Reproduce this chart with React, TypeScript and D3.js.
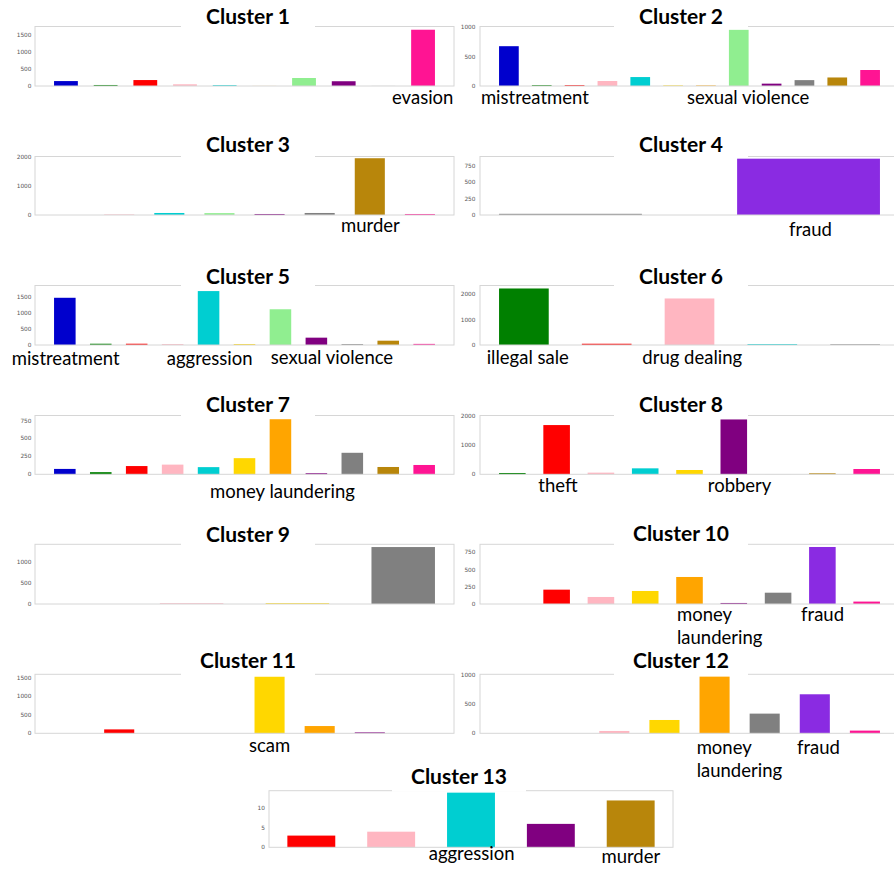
import React from "react";
import * as d3 from "d3";

// ---------- data ----------
const categories = [
  "mistreatment", "illegal sale", "theft", "drug dealing", "aggression", "scam",
  "money laundering", "sexual violence", "robbery", "other", "fraud", "murder", "evasion",
];
const categoryColors = [
  "#0000CD", "#008000", "#FF0000", "#FFB6C1", "#00CED1", "#FFD700",
  "#FFA500", "#90EE90", "#800080", "#808080", "#8A2BE2", "#B8860B", "#FF1493",
];

const clusterNames = [
  "Cluster 1", "Cluster 2", "Cluster 3", "Cluster 4", "Cluster 5", "Cluster 6", "Cluster 7",
  "Cluster 8", "Cluster 9", "Cluster 10", "Cluster 11", "Cluster 12", "Cluster 13",
];

const c1Cats = [0, 1, 2, 3, 4, 6, 7, 8, 9, 12];
const c1Vals = [145, 30, 175, 50, 25, 2, 235, 140, 2, 1655];
const c2Cats = [0, 1, 2, 3, 4, 5, 6, 7, 8, 9, 11, 12];
const c2Vals = [677, 15, 15, 85, 152, 10, 10, 955, 40, 100, 145, 272];
const c3Cats = [2, 3, 4, 7, 8, 9, 11, 12];
const c3Vals = [0, 20, 70, 65, 35, 70, 1965, 35];
const c4Cats = [9, 10];
const c4Vals = [18, 855];
const c5Cats = [0, 1, 2, 3, 4, 5, 7, 8, 9, 11, 12];
const c5Vals = [1480, 40, 40, 30, 1690, 30, 1120, 230, 30, 135, 35];
const c6Cats = [1, 2, 3, 4, 9];
const c6Vals = [2235, 50, 1840, 35, 30];
const c7Cats = [0, 1, 2, 3, 4, 5, 6, 8, 9, 11, 12];
const c7Vals = [75, 30, 115, 135, 100, 225, 768, 15, 300, 102, 130];
const c8Cats = [1, 2, 3, 4, 5, 8, 9, 11, 12];
const c8Vals = [45, 1693, 57, 205, 148, 1886, 2, 35, 182];
const c9Cats = [2, 3, 5, 9];
const c9Vals = [0, 20, 20, 1370];
const c10Cats = [1, 2, 3, 5, 6, 8, 9, 10, 12];
const c10Vals = [0, 208, 102, 189, 392, 15, 164, 827, 35];
const c11Cats = [1, 2, 3, 4, 5, 6, 8, 9];
const c11Vals = [0, 105, 0, 0, 1520, 195, 25, 0];
const c12Cats = [1, 2, 3, 5, 6, 9, 10, 12];
const c12Vals = [0, 0, 40, 228, 970, 337, 668, 46];
const c13Cats = [2, 3, 4, 8, 11];
const c13Vals = [3, 4, 14, 6, 12];

const panelCats = [c1Cats, c2Cats, c3Cats, c4Cats, c5Cats, c6Cats, c7Cats, c8Cats, c9Cats, c10Cats, c11Cats, c12Cats, c13Cats];
const panelVals = [c1Vals, c2Vals, c3Vals, c4Vals, c5Vals, c6Vals, c7Vals, c8Vals, c9Vals, c10Vals, c11Vals, c12Vals, c13Vals];

const yLimits = [1750, 1012, 2025, 888, 1865, 2353, 820, 2022, 1436, 866, 1586, 1010, 14.5];
const yTicks = [
  [0, 500, 1000, 1500], [0, 500, 1000], [0, 1000, 2000], [0, 250, 500, 750],
  [0, 500, 1000, 1500], [0, 1000, 2000], [0, 250, 500, 750], [0, 1000, 2000],
  [0, 500, 1000], [0, 250, 500, 750], [0, 500, 1000, 1500], [0, 500, 1000], [0, 5, 10],
];

// annotated categories per panel (panel index, category index)
const annotations = [
  { panel: 0, cat: 12 },
  { panel: 1, cat: 0 },
  { panel: 1, cat: 7 },
  { panel: 2, cat: 11 },
  { panel: 3, cat: 10 },
  { panel: 4, cat: 0 },
  { panel: 4, cat: 4 },
  { panel: 4, cat: 7 },
  { panel: 5, cat: 1 },
  { panel: 5, cat: 3 },
  { panel: 6, cat: 6 },
  { panel: 7, cat: 2 },
  { panel: 7, cat: 8 },
  { panel: 9, cat: 6 },
  { panel: 9, cat: 10 },
  { panel: 10, cat: 5 },
  { panel: 11, cat: 6 },
  { panel: 11, cat: 10 },
  { panel: 12, cat: 4 },
  { panel: 12, cat: 11 },
];

// ---------- layout ----------
const LC = { x0: 35, x1: 454, tickX: 31.5, titleX: 248 };
const RC = { x0: 480, x1: 899, tickX: 475.5, titleX: 681 };
const panelLayout = [
  { ...LC, y0: 26.5, y1: 86, titleY: 24 },
  { ...RC, y0: 26.5, y1: 86, titleY: 24 },
  { ...LC, y0: 156.5, y1: 215, titleY: 151.7 },
  { ...RC, y0: 156.5, y1: 215, titleY: 151.7 },
  { ...LC, y0: 285.5, y1: 345, titleY: 284 },
  { ...RC, y0: 285.5, y1: 345, titleY: 283.7 },
  { ...LC, y0: 415.5, y1: 474.3, titleY: 411.7 },
  { ...RC, y0: 415.5, y1: 474.3, titleY: 411.7 },
  { ...LC, y0: 544.3, y1: 604, titleY: 541.7 },
  { ...RC, y0: 544.3, y1: 604, titleY: 541 },
  { ...LC, y0: 674.3, y1: 733.3, titleY: 667.7 },
  { ...RC, y0: 674.3, y1: 733.3, titleY: 667.7 },
  { x0: 269, x1: 673, tickX: 265, titleX: 459, y0: 790.7, y1: 847.3, titleY: 784.3 },
];
// label placement: dx from bar centre (start anchored), baseline y, line split
const annotationLayout = [
  { dx: -31, y: 104, split: false },
  { dx: -28, y: 104, split: false },
  { dx: -51.8, y: 104, split: false },
  { dx: -28.8, y: 231.7, split: false },
  { dx: -19.6, y: 235.5, split: false },
  { dx: -53.1, y: 365, split: false },
  { dx: -41.8, y: 365, split: false },
  { dx: -9.7, y: 364, split: false },
  { dx: -37.2, y: 364.3, split: false },
  { dx: -47.2, y: 364.3, split: false },
  { dx: -70.4, y: 498.3, split: false },
  { dx: -18.3, y: 492.3, split: false },
  { dx: -26, y: 492.3, split: false },
  { dx: -12.5, y: 621, split: true },
  { dx: -21.3, y: 621, split: false },
  { dx: -20.6, y: 752.3, split: false },
  { dx: -17.9, y: 754.3, split: true },
  { dx: -17.8, y: 754.3, split: false },
  { dx: -42.3, y: 860, split: false },
  { dx: -29.2, y: 863, split: false },
];

const TITLE_FONT = "Lato, 'Open Sans', sans-serif";
const FRAME = "#d6d6d6";

function makeScales(i: number) {
  const L = panelLayout[i];
  const n = panelCats[i].length;
  const pad = 0.05 * (n - 0.4);
  const x = d3.scaleLinear().domain([-0.3 - pad, n - 0.7 + pad]).range([L.x0, L.x1]);
  const y = d3.scaleLinear().domain([0, yLimits[i]]).range([L.y1, L.y0]);
  return { x, y };
}

function Panel({ i }: { i: number }) {
  const L = panelLayout[i];
  const { x, y } = makeScales(i);
  const cats = panelCats[i];
  const vals = panelVals[i];
  return (
    <g>
      {cats.map((c, k) => (
        <rect
          key={k}
          x={x(k - 0.3)}
          width={x(k + 0.3) - x(k - 0.3)}
          y={y(vals[k])}
          height={y(0) - y(vals[k])}
          fill={categoryColors[c]}
        />
      ))}
      <rect x={L.x0} y={L.y0} width={L.x1 - L.x0} height={L.y1 - L.y0} fill="none" stroke={FRAME} strokeWidth={1} />
      {yTicks[i].map((t) => (
        <text
          key={t}
          x={L.tickX}
          y={y(t)}
          dy="0.35em"
          textAnchor="end"
          fontFamily="'DejaVu Sans', sans-serif"
          fontSize={5.8}
          fill="#555"
        >
          {t}
        </text>
      ))}
      <rect x={L.titleX - 67} y={L.titleY - 22} width={134} height={L.y0 + 1 - (L.titleY - 22)} fill="#fff" />
      <text x={L.titleX} y={L.titleY} textAnchor="middle" fontFamily={TITLE_FONT} fontWeight={700} fontSize={21} fill="#000">
        {clusterNames[i]}
      </text>
    </g>
  );
}

function Annotation({ a, l }: { a: { panel: number; cat: number }; l: { dx: number; y: number; split: boolean } }) {
  const { x } = makeScales(a.panel);
  const slot = panelCats[a.panel].indexOf(a.cat);
  const name = categories[a.cat];
  const lines = l.split ? name.split(" ") : [name];
  const lx = x(slot) + l.dx;
  return (
    <text fontFamily={TITLE_FONT} fontSize={18.5} fill="#000">
      {lines.map((s, k) => (
        <tspan key={k} x={lx} y={l.y + k * 22.5}>
          {s}
        </tspan>
      ))}
    </text>
  );
}

export default function App() {
  return (
    <svg
      width={894}
      height={870}
      viewBox="0 0 894 870"
      style={{ position: "absolute", left: 0, top: 0, background: "#fff" }}
    >
      <rect x={0} y={0} width={894} height={870} fill="#fff" />
      {panelCats.map((_, i) => (
        <Panel key={i} i={i} />
      ))}
      {annotations.map((a, k) => (
        <Annotation key={k} a={a} l={annotationLayout[k]} />
      ))}
    </svg>
  );
}
